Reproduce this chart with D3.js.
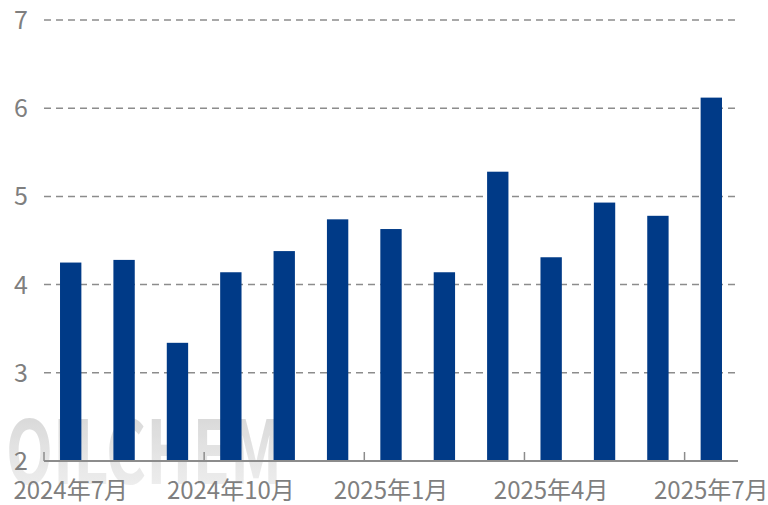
<!DOCTYPE html>
<html>
<head>
<meta charset="utf-8">
<script src="https://cdn.jsdelivr.net/npm/d3@7"></script>
<style>
  body { margin: 0; background: #fff; }
  text { font-family: "Noto Sans CJK SC", "Open Sans", sans-serif; }
</style>
</head>
<body>
<div id="chart"></div>
<script>
// months and values
const months = ["2024年7月", "2024年8月", "2024年9月", "2024年10月", "2024年11月", "2024年12月",
  "2025年1月", "2025年2月", "2025年3月", "2025年4月", "2025年5月", "2025年6月", "2025年7月"];
const values = [4.25, 4.28, 3.34, 4.14, 4.38, 4.74, 4.63, 4.14, 5.28, 4.31, 4.93, 4.78, 6.12];
const yTicks = [2, 3, 4, 5, 6, 7];
const shownLabels = ["2024年7月", "2024年10月", "2025年1月", "2025年4月", "2025年7月"];

const width = 768, height = 505;
const svg = d3.select("#chart").append("svg")
  .attr("width", width)
  .attr("height", height);

const x = d3.scaleBand().domain(months).range([44, 738])
  .paddingInner(0.6).paddingOuter(0.3);
const y = d3.scaleLinear().domain([2, 7]).range([461, 20]);

// watermark
const grad = svg.append("defs").append("linearGradient")
  .attr("id", "wm").attr("x1", 0).attr("y1", 0).attr("x2", 0).attr("y2", 1);
grad.append("stop").attr("offset", "0%").attr("stop-color", "#c4c4c4");
grad.append("stop").attr("offset", "100%").attr("stop-color", "#f2f2f2");
svg.append("text")
  .attr("x", 6).attr("y", 484)
  .attr("font-size", 88)
  .attr("font-weight", "bold")
  .attr("font-family", "DejaVu Sans")
  .attr("textLength", 276)
  .attr("lengthAdjust", "spacingAndGlyphs")
  .attr("fill", "url(#wm)")
  .attr("opacity", 0.8)
  .text("OILCHEM");

// gridlines
svg.append("g")
  .selectAll("line")
  .data(yTicks.filter(d => d > 2))
  .join("line")
  .attr("x1", 44).attr("x2", 738)
  .attr("y1", d => y(d)).attr("y2", d => y(d))
  .attr("stroke", "#8c8c8c")
  .attr("stroke-width", 1.5)
  .attr("stroke-dasharray", "7,5");

// y labels
svg.append("g")
  .selectAll("text")
  .data(yTicks)
  .join("text")
  .attr("x", 14)
  .attr("y", d => y(d))
  .attr("dy", "0.36em")
  .attr("font-size", 25)
  .attr("fill", "#7f7f7f")
  .text(d => d);

// bars
svg.append("g")
  .selectAll("rect")
  .data(values)
  .join("rect")
  .attr("x", (d, i) => x(months[i]))
  .attr("y", d => y(d))
  .attr("width", x.bandwidth())
  .attr("height", d => y(2) - y(d))
  .attr("fill", "#003a87");

// x axis
const step = x.step();
const xAxis = svg.append("g");
xAxis.append("line")
  .attr("x1", 44).attr("x2", 738)
  .attr("y1", 461).attr("y2", 461)
  .attr("stroke", "#8c8c8c")
  .attr("stroke-width", 2);
xAxis.selectAll(".tk")
  .data(shownLabels)
  .join("line")
  .attr("class", "tk")
  .attr("x1", d => x(d) - x.paddingInner() * step / 2)
  .attr("x2", d => x(d) - x.paddingInner() * step / 2)
  .attr("y1", 461).attr("y2", 452)
  .attr("stroke", "#8c8c8c")
  .attr("stroke-width", 1.5);
xAxis.selectAll("text")
  .data(shownLabels)
  .join("text")
  .attr("x", d => x(d) + x.bandwidth() / 2)
  .attr("y", 499)
  .attr("text-anchor", "middle")
  .attr("font-size", 24)
  .attr("fill", "#7f7f7f")
  .text(d => d);
</script>
</body>
</html>
